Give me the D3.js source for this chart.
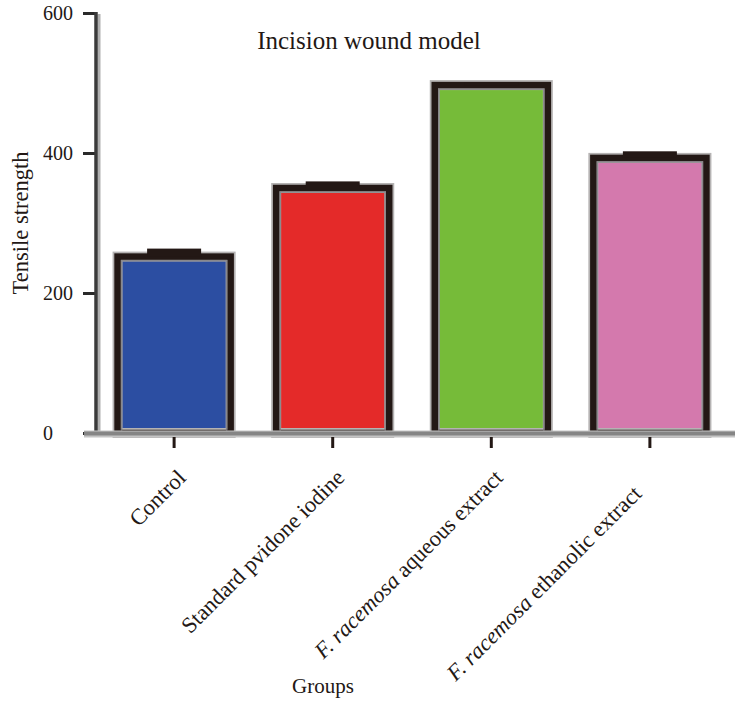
<!DOCTYPE html>
<html><head><meta charset="utf-8">
<script src="https://cdn.jsdelivr.net/npm/d3@7"></script>
<style>body{margin:0;background:#fff}svg{display:block}text{font-family:"Liberation Serif","DejaVu Serif",serif;fill:#231815}</style>
</head><body>
<svg id="c" width="739" height="705"></svg>
<script>
const groups = ["Control","Standard pvidone iodine","F. racemosa aqueous extract","F. racemosa ethanolic extract"];
const means = [252, 350, 497, 393];
const sems = [10, 8, 2, 8];
const colors = ["#2c4ea2","#e42a29","#76bb39","#d479ad"];
const yTicks = [0, 200, 400, 600];

const svg = d3.select("#c");
const y = d3.scaleLinear().domain([0,600]).range([433,13]);
const x = d3.scaleBand().domain(groups).range([96,728]).paddingInner(0.287).paddingOuter(0.136);

// title
svg.append("text").attr("x",369).attr("y",49).attr("text-anchor","middle").attr("font-size",25).text("Incision wound model");

// bars
const bw = x.bandwidth();
groups.forEach((g,i)=>{
  const x0 = x(g), yt = y(means[i]), yb = y(0);
  svg.append("rect").attr("x",x0).attr("y",yt).attr("width",bw).attr("height",yb-yt)
    .attr("fill",colors[i]).attr("stroke","#b5b3b3").attr("stroke-width",10);
  svg.append("rect").attr("x",x0).attr("y",yt).attr("width",bw).attr("height",yb-yt)
    .attr("fill","none").attr("stroke","#231815").attr("stroke-width",6.5);
  svg.append("rect").attr("x",x0+4).attr("y",yt+4).attr("width",bw-8).attr("height",yb-yt-4)
    .attr("fill","none").attr("stroke","#6d6a70").attr("stroke-width",1.5).attr("opacity",0.6);
  // error cap
  const cx = x0 + bw/2;
  svg.append("rect").attr("x",cx-27).attr("y",y(means[i]+sems[i])-1).attr("width",54)
    .attr("height",y(means[i])-y(means[i]+sems[i])+1).attr("fill","#231815");
});

// y axis
const yAxis = d3.axisLeft(y).tickValues(yTicks).tickSize(13).tickPadding(13);
const ga = svg.append("g").attr("transform","translate(96,0)").call(yAxis);
ga.select(".domain").remove();
ga.selectAll(".tick line").attr("stroke","#2a2a2a").attr("stroke-width",3);
ga.selectAll(".tick text").attr("font-size",20).attr("font-family","Liberation Serif, serif").attr("fill","#231815")
  .attr("text-anchor","start").attr("x",-53);
svg.append("line").attr("x1",99).attr("x2",99).attr("y1",14).attr("y2",433).attr("stroke","#b0b0b0").attr("stroke-width",3);
svg.append("line").attr("x1",96).attr("x2",96).attr("y1",12).attr("y2",433).attr("stroke","#3a3a3a").attr("stroke-width",3.5);

// x axis
svg.append("line").attr("x1",84).attr("x2",735).attr("y1",434).attr("y2",434).attr("stroke","#c4c4c4").attr("stroke-width",7);
svg.append("line").attr("x1",84).attr("x2",735).attr("y1",433.5).attr("y2",433.5).attr("stroke","#858585").attr("stroke-width",4);
const xAxis = d3.axisBottom(x).tickSize(11).tickSizeOuter(0).tickFormat("");
const gx = svg.append("g").attr("transform","translate(0,437)").call(xAxis);
gx.select(".domain").remove();
gx.selectAll(".tick line").attr("stroke","#231815").attr("stroke-width",3);

// x labels
groups.forEach((g,i)=>{
  const cx = x(g)+bw/2;
  const last = i === groups.length-1;
  const t = svg.append("text").attr("font-size",22.5).attr("text-anchor","end")
    .attr("transform",`translate(${cx + (last ? -7 : 13)},${last ? 495 : 479})rotate(-45)`);
  if (g.startsWith("F. racemosa")) {
    t.append("tspan").attr("font-style","italic").text("F. racemosa");
    t.append("tspan").text(g.slice("F. racemosa".length));
  } else t.text(g);
});

// axis titles
svg.append("text").attr("transform","translate(28,223)rotate(-90)").attr("text-anchor","middle").attr("font-size",22.5).text("Tensile strength");
svg.append("text").attr("x",323).attr("y",693).attr("text-anchor","middle").attr("font-size",21).text("Groups");
</script>
</body></html>
